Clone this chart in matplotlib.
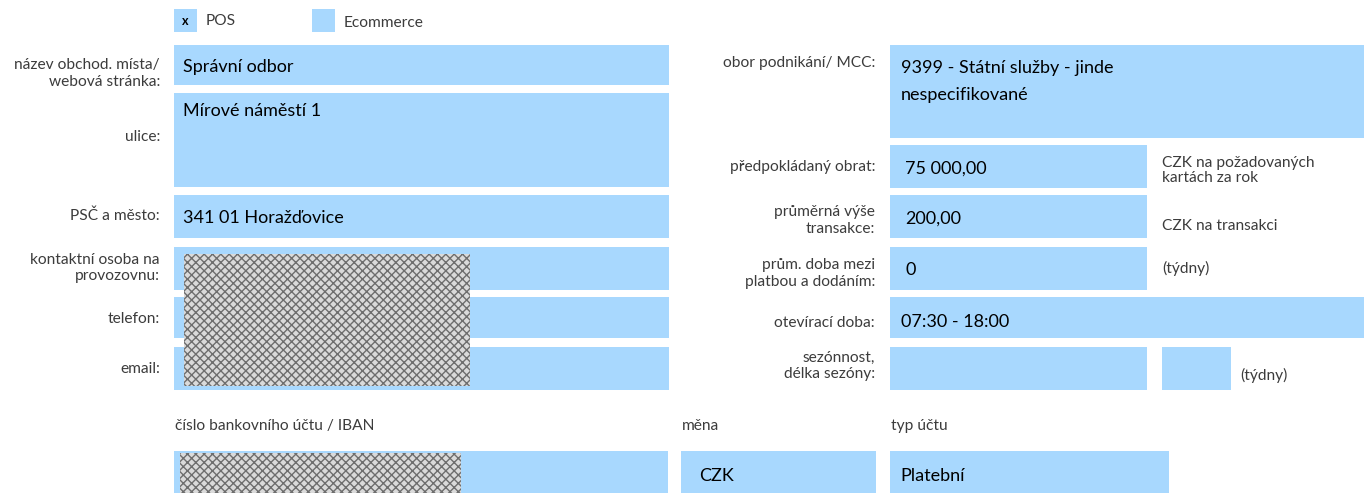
import matplotlib.pyplot as plt
from matplotlib.patches import Rectangle

# form content
left_labels = ['název obchod. místa/\nwebová stránka:', 'ulice:', 'PSČ a město:',
               'kontaktní osoba na\nprovozovnu:', 'telefon:', 'email:']
left_values = ['Správní odbor', 'Mírové náměstí 1', '341 01 Horažďovice', '', '', '']
right_labels = ['obor podnikání/ MCC:', 'předpokládaný obrat:', 'průměrná výše\ntransakce:',
                'prům. doba mezi\nplatbou a dodáním:', 'otevírací doba:', 'sezónnost,\ndélka sezóny:']
right_values = ['9399 - Státní služby - jinde\nnespecifikované', '75 000,00', '200,00', '0',
                '07:30 - 18:00', '']
right_units = ['', 'CZK na požadovaných\nkartách za rok', 'CZK na transakci', '(týdny)', '', '']
bottom_labels = ['číslo bankovního účtu / IBAN', 'měna', 'typ účtu']
bottom_values = ['', 'CZK', 'Platební']
checkboxes = ['POS', 'Ecommerce']
checked = ['x', '']

BLUE = '#a8d8fe'
LAB = '#3c3c3c'
FONT = 'Lato'
LS = 11.2   # label size
VS = 13     # value size

fig = plt.figure(figsize=(13.64, 4.93), dpi=100)
ax = fig.add_axes([0, 0, 1, 1])
ax.set_xlim(0, 1364)
ax.set_ylim(493, 0)
ax.axis('off')


def box(x0, y0, x1, y1):
    ax.add_patch(Rectangle((x0, y0), x1 - x0, y1 - y0, facecolor=BLUE, linewidth=0))


def noise(x0, y0, x1, y1):
    ax.add_patch(Rectangle((x0, y0), x1 - x0, y1 - y0, facecolor='#dadada',
                           edgecolor='#6e6e6e', linewidth=0, hatch='xxxx'))


# checkboxes
for i, (name, mark) in enumerate(zip(checkboxes, checked)):
    bx = [174, 312][i]
    box(bx, 9, bx + 23, 32)
    ax.text(bx + 11.5, 21, mark, ha='center', va='center', fontsize=9, fontweight='bold',
            family=FONT, color='black')
    ax.text(bx + 32, [21, 23][i], name, ha='left', va='center', fontsize=LS,
            family=FONT, color=LAB)

# left column
left_rows = [(45, 85), (93, 187), (195, 238), (247, 290), (297, 338), (347, 390)]
left_label_y = [73.5, 137, 216, 268, 319, 369]
left_value_y = [67, 111, 218, 0, 0, 0]
for (y0, y1), lab, ly, val, vy in zip(left_rows, left_labels, left_label_y, left_values, left_value_y):
    box(174, y0, 669, y1)
    ax.text(160, ly, lab, ha='right', va='center', fontsize=LS, family=FONT,
            color=LAB, linespacing=1.2)
    if val:
        ax.text(183, vy, val, ha='left', va='center', fontsize=VS, family=FONT, color='black')
noise(184, 254, 470, 386)

# right column
right_rows = [(45, 138, 1364), (145, 188, 1147), (195, 238, 1147), (247, 290, 1147),
              (297, 338, 1364), (347, 390, 1147)]
right_label_y = [63, 167, 220.5, 273.5, 323, 366]
right_value_y = [81.5, 169, 219, 270, 322, 0]
right_value_x = [901, 905, 905, 905, 901, 0]
right_unit_y = [0, 170.5, 226, 268, 0, 0]
for (y0, y1, xr), lab, ly, val, vx, vy, unit, uy in zip(
        right_rows, right_labels, right_label_y, right_values, right_value_x,
        right_value_y, right_units, right_unit_y):
    box(890, y0, xr, y1)
    ax.text(875, ly, lab, ha='right', va='center', fontsize=LS, family=FONT,
            color=LAB, linespacing=1.2)
    if val:
        ax.text(vx, vy, val, ha='left', va='center', fontsize=VS, family=FONT,
                color='black', linespacing=1.85)
    if unit:
        ax.text(1162, uy, unit, ha='left', va='center', fontsize=LS, family=FONT,
                color=LAB, linespacing=1.1)
box(1162, 347, 1231, 390)
ax.text(1240, 375, '(týdny)', ha='left', va='center', fontsize=LS, family=FONT, color=LAB)

# bank account row
bottom_x = [(174, 668), (681, 876), (890, 1169)]
bottom_value_x = [183, 699, 900]
for (x0, x1), lab, val, vx in zip(bottom_x, bottom_labels, bottom_values, bottom_value_x):
    box(x0, 451, x1, 493)
    ax.text(x0 + 1, 426, lab, ha='left', va='center', fontsize=LS, family=FONT, color=LAB)
    if val:
        ax.text(vx, 476, val, ha='left', va='center', fontsize=VS, family=FONT, color='black')
noise(180, 453, 461, 493)

fig.savefig('out.png', dpi=100)
